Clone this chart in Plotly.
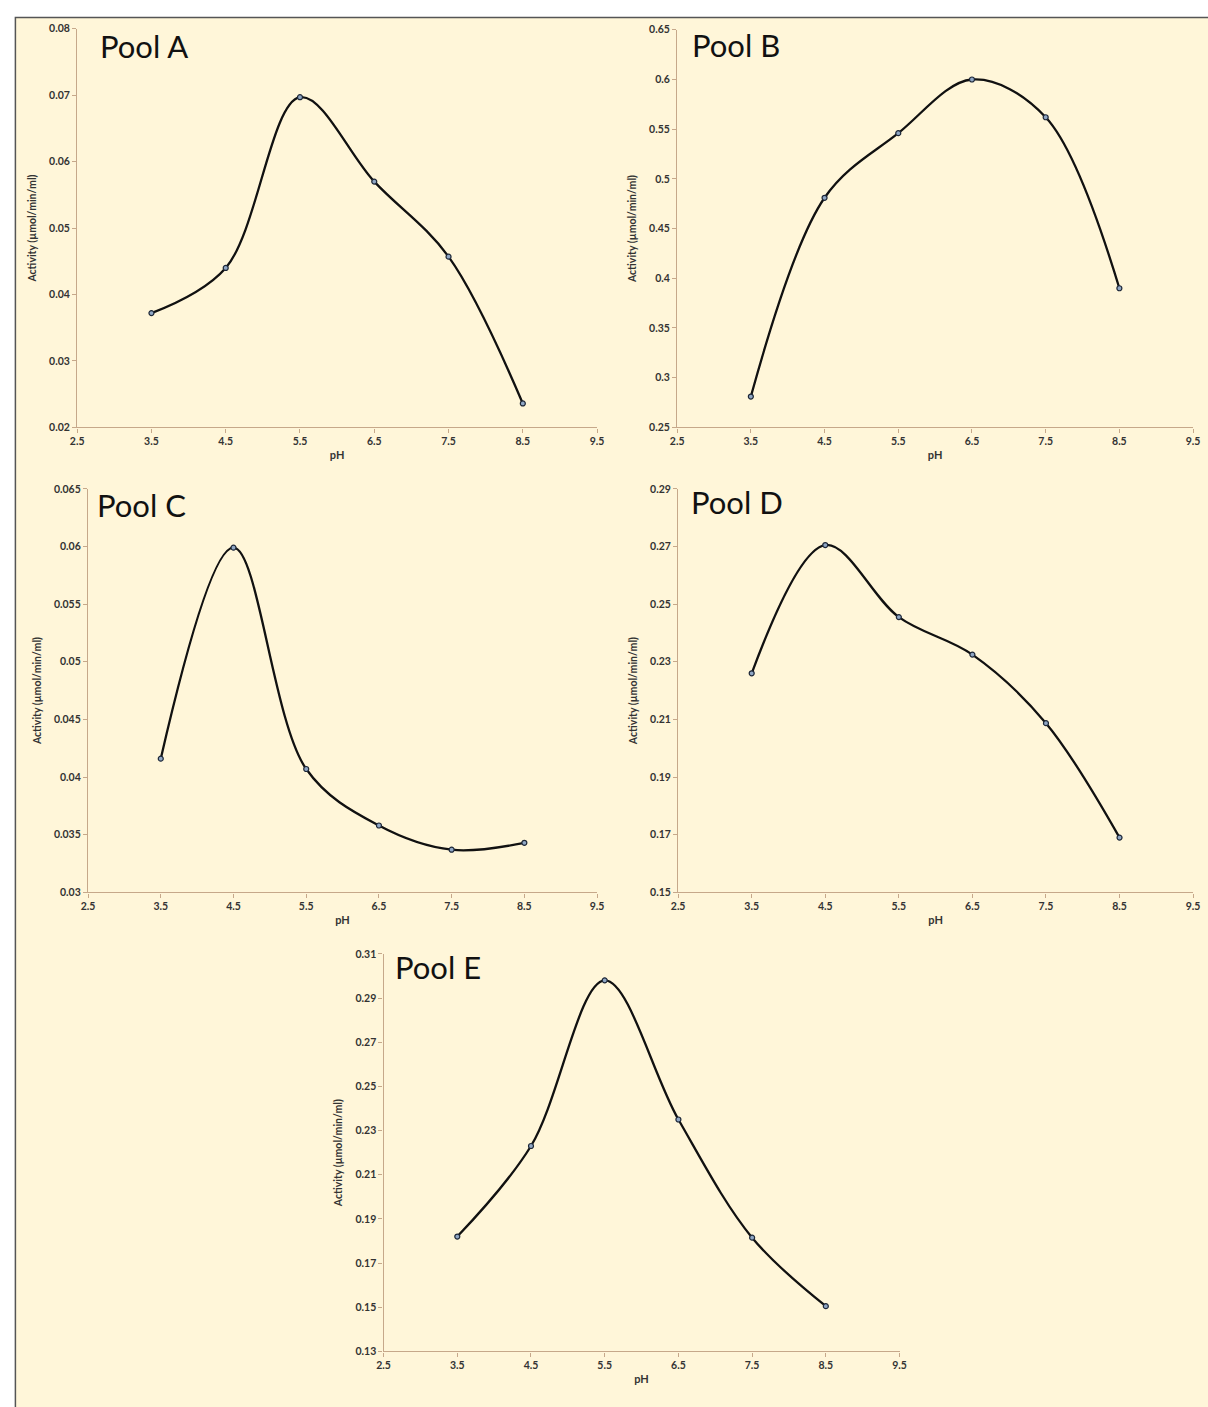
import plotly.graph_objects as go

W, H = 1208, 1407

ph = [3.5, 4.5, 5.5, 6.5, 7.5, 8.5]
pool_a = [0.0372, 0.0440, 0.0697, 0.0570, 0.0457, 0.0236]
pool_b = [0.281, 0.481, 0.546, 0.600, 0.562, 0.390]
pool_c = [0.0416, 0.0599, 0.0407, 0.0358, 0.0337, 0.0343]
pool_d = [0.226, 0.2705, 0.2455, 0.2325, 0.2087, 0.1690]
pool_e = [0.182, 0.223, 0.298, 0.235, 0.1815, 0.1505]

x_ticks = [2.5, 3.5, 4.5, 5.5, 6.5, 7.5, 8.5, 9.5]
x_labels = ["2.5", "3.5", "4.5", "5.5", "6.5", "7.5", "8.5", "9.5"]
a_ticks = [0.02, 0.03, 0.04, 0.05, 0.06, 0.07, 0.08]
a_labels = ["0.02", "0.03", "0.04", "0.05", "0.06", "0.07", "0.08"]
b_ticks = [0.25, 0.30, 0.35, 0.40, 0.45, 0.50, 0.55, 0.60, 0.65]
b_labels = ["0.25", "0.3", "0.35", "0.4", "0.45", "0.5", "0.55", "0.6", "0.65"]
c_ticks = [0.030, 0.035, 0.040, 0.045, 0.050, 0.055, 0.060, 0.065]
c_labels = ["0.03", "0.035", "0.04", "0.045", "0.05", "0.055", "0.06", "0.065"]
d_ticks = [0.15, 0.17, 0.19, 0.21, 0.23, 0.25, 0.27, 0.29]
d_labels = ["0.15", "0.17", "0.19", "0.21", "0.23", "0.25", "0.27", "0.29"]
e_ticks = [0.13, 0.15, 0.17, 0.19, 0.21, 0.23, 0.25, 0.27, 0.29, 0.31]
e_labels = ["0.13", "0.15", "0.17", "0.19", "0.21", "0.23", "0.25", "0.27", "0.29", "0.31"]

titles = ["Pool A", "Pool B", "Pool C", "Pool D", "Pool E"]
series = [pool_a, pool_b, pool_c, pool_d, pool_e]
yticks = [(a_ticks, a_labels), (b_ticks, b_labels), (c_ticks, c_labels),
          (d_ticks, d_labels), (e_ticks, e_labels)]

# pixel boxes: (left, right, top, bottom)
boxes = [(71, 597, 23, 425), (678, 1200, 24, 425), (82, 597, 487, 894),
         (679, 1200, 487, 894), (381, 903, 956, 1357)]
title_pos = [(92, 40), (691, 39), (89, 503), (690, 500), (391, 969)]

BG = "#FFF6D9"
AXC = "#C6A88A"
TICKFONT = dict(family="Lato", size=10.5, color="#333333", weight="bold")

fig = go.Figure()
for i, (ys, box, (tv, tt)) in enumerate(zip(series, boxes, yticks)):
    n = "" if i == 0 else str(i + 1)
    l, r, t, b = box
    fig.add_trace(go.Scatter(
        x=ph, y=ys, mode="lines+markers", xaxis="x" + n, yaxis="y" + n,
        line=dict(color="#111111", width=2.3, shape="spline", smoothing=1.0),
        marker=dict(size=5, color="#8FA6C4", line=dict(color="#1d2738", width=1.2)),
        showlegend=False, hoverinfo="skip"))
    common = dict(showgrid=False, zeroline=False, showline=True, linecolor=AXC,
                  linewidth=1.4, ticks="outside", tickcolor=AXC, ticklen=4,
                  tickwidth=1.2, tickfont=TICKFONT)
    fig.layout["xaxis" + n] = dict(
        common, domain=[l / W, r / W], anchor="y" + n, range=[2.5, 9.5],
        tickvals=x_ticks, ticktext=x_labels,
        title=dict(text="<b>pH</b>", font=dict(family="Lato", size=11, color="#333333"),
                   standoff=5))
    fig.layout["yaxis" + n] = dict(
        common, domain=[1 - b / H, 1 - t / H], anchor="x" + n,
        range=[tv[0], tv[-1]], tickvals=tv, ticktext=tt,
        title=dict(text="<b>Activity (µmol/min/ml)</b>",
                   font=dict(family="Lato", size=10.5, color="#333333"), standoff=10))
    tx, ty = title_pos[i]
    fig.add_annotation(text=titles[i], x=tx / W, y=1 - ty / H, xref="paper", yref="paper",
                       xanchor="left", yanchor="middle", showarrow=False,
                       font=dict(family="Lato", size=31, color="#111111"))

fig.add_shape(type="rect", xref="paper", yref="paper", x0=8.5 / W, x1=1.2, y0=-0.2,
              y1=1 - 11.5 / H, fillcolor=BG, line=dict(color="#555555", width=1.5),
              layer="below")

fig.update_layout(width=W, height=H, margin=dict(l=0, r=0, t=0, b=0),
                  paper_bgcolor="white", plot_bgcolor="rgba(0,0,0,0)")

fig.write_html("out.html", config={"displayModeBar": False},
               post_script="document.body.style.margin='0px';"
                           "document.documentElement.style.overflow='hidden';"
                           "var gd=document.getElementById('{plot_id}');"
                           "gd.style.position='fixed';gd.style.left='0px';gd.style.top='0px';")
